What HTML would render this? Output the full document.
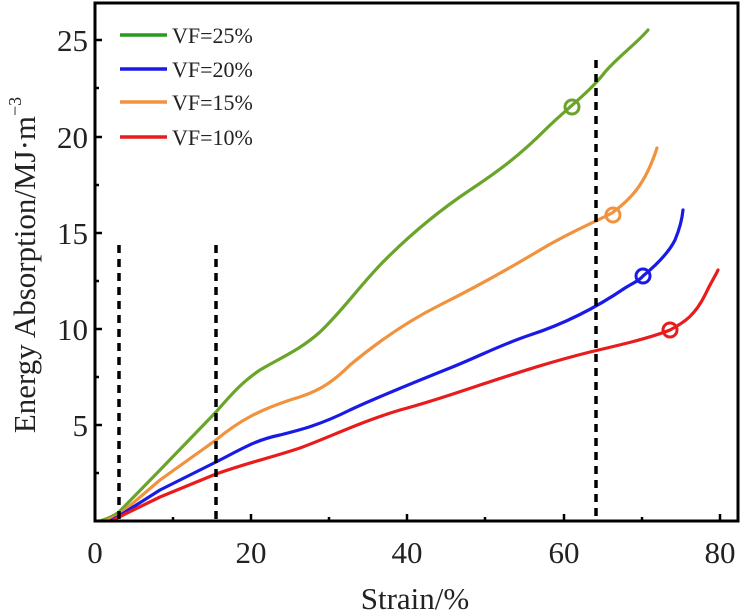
<!DOCTYPE html><html><head><style>body{margin:0;background:#fff}svg{display:block}text{font-family:"Liberation Serif",serif;fill:#222}</style></head><body>
<svg width="741" height="615" viewBox="0 0 741 615">
<g fill="none" stroke-linecap="round" stroke-linejoin="round" stroke-width="3.2">
<path stroke="#6aa42a" d="M100,521 C110,518 115,515 119,512 L160,470 L216,412 C235,390 245,380 260,370 C280,358 300,350 320,332 C345,308 360,285 385,260 C410,235 440,210 470,190 C500,170 520,155 545,130 C565,110 590,92 605,72 C620,55 635,45 648,30"/>
<path stroke="#f0923e" d="M105,521 C112,518 116,517 119,515 L160,480 L216,440 C240,420 260,410 290,400 C315,393 330,385 350,365 C380,340 410,320 440,305 C480,285 510,268 540,250 C570,232 595,222 612,213 C630,200 645,185 657,148"/>
<path stroke="#1a1ae6" d="M110,521 L119,516 L160,490 L216,462 C240,450 255,440 280,435 C300,430 320,425 350,410 C380,396 420,380 450,368 C480,356 500,345 530,335 C570,322 600,305 625,288 C635,282 640,280 643,276 C660,262 670,250 675,240 C680,228 682,220 683,210"/>
<path stroke="#e81c1c" d="M112,521 L119,517 L160,497 L216,474 C250,462 270,458 300,448 C330,437 360,422 400,410 C430,402 450,395 480,385 C520,372 550,362 590,352 C620,345 650,338 670,330 C685,322 695,315 705,295 C712,280 716,275 718,270"/>
</g>
<g fill="none" stroke-width="3">
<circle cx="572" cy="107" r="7" stroke="#6aa42a"/>
<circle cx="613" cy="215" r="7" stroke="#f0923e"/>
<circle cx="643" cy="276" r="7" stroke="#1a1ae6"/>
<circle cx="670" cy="330" r="7" stroke="#e81c1c"/>
</g>
<g stroke="#000" stroke-width="3.5" stroke-dasharray="8,6">
<line x1="119" y1="245" x2="119" y2="521"/>
<line x1="216" y1="245" x2="216" y2="521"/>
<line x1="596" y1="60" x2="596" y2="521"/>
</g>
<rect x="95" y="3" width="643" height="518" fill="none" stroke="#000" stroke-width="3"/>
<g stroke="#000" stroke-width="2.5">
<line x1="95" y1="40" x2="102" y2="40"/><line x1="95" y1="137" x2="102" y2="137"/><line x1="95" y1="233" x2="102" y2="233"/><line x1="95" y1="329" x2="102" y2="329"/><line x1="95" y1="425" x2="102" y2="425"/>
<line x1="95" y1="88" x2="99" y2="88"/><line x1="95" y1="185" x2="99" y2="185"/><line x1="95" y1="281" x2="99" y2="281"/><line x1="95" y1="377" x2="99" y2="377"/><line x1="95" y1="473" x2="99" y2="473"/>
<line x1="251" y1="521" x2="251" y2="514"/><line x1="407" y1="521" x2="407" y2="514"/><line x1="564" y1="521" x2="564" y2="514"/><line x1="720" y1="521" x2="720" y2="514"/>
<line x1="173" y1="521" x2="173" y2="517"/><line x1="329" y1="521" x2="329" y2="517"/><line x1="485" y1="521" x2="485" y2="517"/><line x1="642" y1="521" x2="642" y2="517"/>
</g>
<g font-size="31" text-anchor="end">
<text x="88" y="51">25</text><text x="88" y="148">20</text><text x="88" y="244">15</text><text x="88" y="340">10</text><text x="88" y="436">5</text>
</g>
<g font-size="31" text-anchor="middle">
<text x="95" y="563">0</text><text x="251" y="563">20</text><text x="407" y="563">40</text><text x="564" y="563">60</text><text x="720" y="563">80</text>
<text x="415" y="609">Strain/%</text>
</g>
<text transform="translate(35,265) rotate(-90)" font-size="31" text-anchor="middle">Energy Absorption/MJ·m<tspan font-size="18" dy="-14">−3</tspan></text>
<g stroke-width="3.5">
<line x1="120" y1="35" x2="167" y2="35" stroke="#2a9a1e"/>
<line x1="120" y1="69" x2="167" y2="69" stroke="#1a1ae6"/>
<line x1="120" y1="102" x2="167" y2="102" stroke="#f0923e"/>
<line x1="120" y1="137" x2="167" y2="137" stroke="#e81c1c"/>
</g>
<g font-size="22">
<text x="172" y="43">VF=25%</text><text x="172" y="77">VF=20%</text><text x="172" y="110">VF=15%</text><text x="172" y="145">VF=10%</text>
</g>
</svg></body></html>
